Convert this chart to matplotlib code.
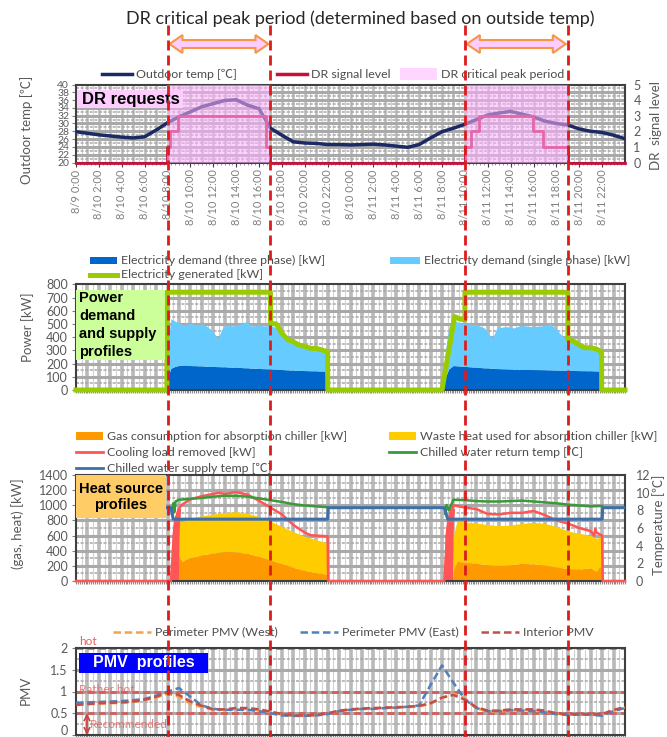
import numpy as np
import matplotlib.pyplot as plt
from matplotlib.lines import Line2D
from matplotlib.patches import Rectangle, Polygon

plt.rcParams['font.family'] = ['Lato', 'Noto Sans CJK JP', 'DejaVu Sans']

# -----------------------------
# DATA
# -----------------------------
hours = np.arange(0, 49)

outdoor_temp = [27.9, 27.5, 27.1, 26.8, 26.5, 26.3, 26.6, 28.3, 30.2, 31.7, 33.0, 34.3, 35.1, 35.9, 36.1, 34.7, 33.8, 28.8,
                27.0, 25.3, 25.0, 24.9, 24.6, 24.6, 24.5, 24.6, 24.7, 24.5, 24.2, 23.9, 24.6, 26.3, 27.9, 28.8, 29.8, 31.0,
                32.2, 32.7, 33.1, 32.4, 31.7, 30.6, 30.0, 29.6, 28.6, 28.0, 27.7, 27.0, 26.1]

dr_time = [0, 8, 8.2, 8.9, 16.6, 17, 34, 34.5, 35.2, 40, 40.8, 43, 48]
dr_level = [0, 1, 2, 3, 1, 0, 1, 2, 3, 2, 1, 0, 0]

peak_start = [8, 34]
peak_end = [17, 43]

tick_hours = np.arange(0, 47, 2)
tick_labels = ["8/9 0:00", "8/10 2:00", "8/10 4:00", "8/10 6:00", "8/10 8:00", "8/10 10:00",
               "8/10 12:00", "8/10 14:00", "8/10 16:00", "8/10 18:00", "8/10 20:00", "8/10 22:00",
               "8/10 0:00", "8/11 2:00", "8/11 4:00", "8/11 6:00", "8/11 8:00", "8/11 10:00",
               "8/11 12:00", "8/11 14:00", "8/11 16:00", "8/11 18:00", "8/11 20:00", "8/11 22:00"]

# power
gen_time = [0, 7.95, 7.96, 17.0, 17.01, 17.5, 18, 18.5, 19, 19.5, 20, 20.5, 21, 21.5, 22.0, 22.01, 32.0, 33.1, 33.5,
            34.0, 34.01, 43.0, 43.01, 43.5, 44, 44.5, 45, 45.5, 45.95, 45.96, 48]
gen_kw = [0, 0, 740, 740, 505, 500, 430, 380, 365, 340, 330, 315, 315, 303, 290, 0, 0, 555, 540,
          530, 740, 740, 380, 370, 340, 320, 320, 310, 290, 0, 0]

demand_time = [0, 7.95, 8.1, 8.3, 8.7, 9, 9.5, 10, 10.5, 11, 11.5, 12, 12.4, 12.8, 13.2, 13.8, 14.4, 14.9, 15.3, 16,
               16.5, 17, 17.5, 18, 18.5, 19, 19.5, 20, 20.5, 21, 21.5, 21.8, 21.85,
               32.1, 32.3, 32.6, 33.0, 33.5, 34.1, 35, 35.7, 36.4, 36.8, 37.6, 38.3, 38.9, 39.8, 40.7, 41.5, 42.0,
               42.6, 43.2, 43.9, 44.7, 45.4, 45.8, 45.85, 48]
three_phase_kw = [0, 0, 120, 165, 180, 185, 187, 185, 184, 182, 180, 178, 177, 176, 175, 172, 170, 168, 166, 163,
                  161, 160, 157, 155, 152, 150, 148, 147, 146, 145, 144, 143, 0,
                  0, 100, 160, 185, 182, 178, 172, 168, 165, 162, 160, 157, 156, 155, 154, 152, 150,
                  149, 148, 147, 146, 145, 143, 0, 0]
total_demand_kw = [0, 0, 400, 540, 520, 505, 492, 505, 495, 500, 480, 440, 390, 470, 490, 485, 500, 518, 485, 490,
                   485, 490, 470, 420, 385, 360, 340, 322, 315, 305, 300, 295, 0,
                   0, 300, 480, 530, 510, 500, 495, 470, 390, 470, 480, 470, 490, 480, 485, 500, 460,
                   400, 380, 360, 330, 320, 300, 0, 0]

# heat source
heat_time = [0, 8.85, 9.0, 9.3, 9.6, 10, 11, 12, 13, 14, 15, 16, 17, 18, 19, 20, 21, 22.0, 22.05,
             32.9, 33.0, 33.3, 34, 35, 36, 37, 38, 39, 40, 41, 42, 43, 44, 45, 45.5, 45.7, 46.0, 46.05, 48]
gas_kw = [0, 0, 330, 260, 290, 310, 345, 370, 390, 385, 365, 325, 280, 230, 180, 140, 110, 90, 0,
          0, 150, 260, 250, 235, 215, 205, 215, 235, 225, 210, 185, 165, 160, 170, 130, 180, 180, 0, 0]
heat_total_kw = [0, 0, 780, 790, 800, 830, 860, 885, 905, 915, 895, 850, 790, 720, 650, 590, 545, 500, 0,
                 0, 600, 790, 780, 765, 745, 730, 740, 760, 775, 760, 720, 660, 630, 600, 560, 580, 565, 0, 0]

cool_time = [0, 8.3, 8.6, 8.8, 9.0, 9.2, 10, 11, 12, 12.5, 13, 14, 15, 16, 17, 18, 19, 20, 20.5, 22.0, 22.05,
             32.2, 32.5, 32.8, 33.0, 34, 35, 36, 37, 38, 39, 40, 41, 42, 43, 44, 45, 45.3, 45.4, 45.5, 46.0, 46.05, 48]
cool_kw = [0, 0, 700, 850, 950, 1000, 1080, 1120, 1150, 1165, 1150, 1175, 1140, 1060, 970, 880, 740, 640, 605, 590, 0,
           0, 700, 900, 1000, 970, 950, 885, 880, 900, 900, 925, 870, 800, 760, 700, 660, 600, 690, 640, 600, 0, 0]
cool_band_time = [[8.35, 8.45, 8.6, 8.85, 9.2, 9.1, 9.05, 9.0],
                  [32.2, 32.3, 32.45, 32.7, 33.15, 33.05, 33.0, 32.95]]
cool_band_kw = [0, 600, 800, 950, 950, 800, 600, 0]

ret_time = [8.4, 8.5, 8.6, 8.7, 9.0, 10, 11, 12, 13, 14, 15, 16, 17, 18, 19, 20, 21, 22.0, np.nan,
            32.3, 32.4, 32.6, 33.0, 34, 35, 36, 37, 38, 39, 40, 41, 42, 43, 44, 45, 46.0]
ret_temp = [7.6, 8.8, 7.8, 9.0, 9.2, 9.3, 9.4, 9.55, 9.65, 9.65, 9.55, 9.35, 9.15, 8.95, 8.7, 8.55, 8.45, 8.35, np.nan,
            7.6, 8.6, 8.0, 9.2, 9.15, 9.05, 9.0, 9.0, 9.05, 9.1, 9.0, 8.9, 8.8, 8.65, 8.55, 8.45, 8.5]

sup_time = [0, 8.3, 8.5, 22.0, 22.05, 32.2, 32.5, 46.0, 46.05, 48]
sup_temp = [8.3, 8.3, 7.0, 7.0, 8.3, 8.3, 7.0, 7.0, 8.3, 8.3]

# PMV (hourly)
pmv_interior = [0.69, 0.71, 0.73, 0.74, 0.75, 0.77, 0.81, 0.88, 0.98, 0.92, 0.77, 0.67, 0.59, 0.59, 0.62, 0.62, 0.59,
                0.54, 0.48, 0.45, 0.45, 0.46, 0.50, 0.56, 0.59, 0.61, 0.62, 0.63, 0.64, 0.65, 0.67, 0.73, 0.86, 0.92,
                0.81, 0.64, 0.56, 0.56, 0.59, 0.59, 0.59, 0.56, 0.50, 0.48, 0.48, 0.47, 0.48, 0.58, 0.64]
pmv_west = [0.70, 0.71, 0.72, 0.73, 0.74, 0.76, 0.80, 0.86, 0.95, 0.88, 0.72, 0.64, 0.58, 0.58, 0.60, 0.60, 0.57,
            0.52, 0.47, 0.44, 0.44, 0.45, 0.49, 0.55, 0.58, 0.60, 0.61, 0.62, 0.63, 0.64, 0.66, 0.72, 0.85, 0.95,
            0.84, 0.62, 0.54, 0.54, 0.56, 0.57, 0.57, 0.54, 0.49, 0.47, 0.47, 0.46, 0.47, 0.57, 0.63]
pmv_east = [0.74, 0.75, 0.76, 0.77, 0.78, 0.80, 0.83, 0.90, 1.00, 1.08, 0.88, 0.68, 0.60, 0.58, 0.58, 0.58, 0.55,
            0.50, 0.45, 0.44, 0.44, 0.45, 0.48, 0.55, 0.58, 0.60, 0.60, 0.62, 0.63, 0.65, 0.68, 1.15, 1.60, 1.20,
            0.82, 0.62, 0.55, 0.55, 0.57, 0.56, 0.55, 0.52, 0.48, 0.46, 0.47, 0.47, 0.44, 0.55, 0.62]
pmv_levels = [2, 1, 0.5]
pmv_level_names = ["hot", "Rather hot", "Recommended"]

# -----------------------------
# FIGURE / HELPERS
# -----------------------------
W, H = 667, 737
fig = plt.figure(figsize=(W / 100, H / 100), dpi=100)
GRAY = '#595959'
LEG_FS = 8.9


def fx(px):
    return px / W


def fy(py):
    return 1 - py / H


def panel(top, bottom):
    ax = fig.add_axes([fx(76), fy(bottom), fx(625) - fx(76), (bottom - top) / H])
    ax.set_xlim(0, 48)
    for s in ax.spines.values():
        s.set_color('#404040')
        s.set_linewidth(1.5)
    ax.tick_params(axis='y', labelsize=9, labelcolor=GRAY, color='#808080', length=3, pad=3)
    return ax


def bg_grid(ax, y_major, y_minor, v_lw=2.6):
    for t in range(1, 48):
        ax.axvline(t, color='#b9b9b9', lw=v_lw, zorder=0.3)
    for t in np.arange(0.5, 48, 1):
        ax.axvline(t, color='#d2d2d2', lw=0.8, zorder=0.3)
    for y in y_major:
        ax.axhline(y, color='#a9a9a9', lw=2.2, zorder=0.3)
    for y in y_minor:
        ax.axhline(y, color='#a9a9a9', lw=1.1, ls=(0, (2, 1)), zorder=0.3)


def minor_x(ax):
    ax.set_xticks(np.arange(0, 48.01, 1 / 6))
    ax.tick_params(axis='x', length=2, color='#8c8c8c', labelbottom=False)


def leg_line(x, y, color, label, lw=2.5, ls='-', length=30):
    fig.add_artist(Line2D([fx(x), fx(x + length)], [fy(y), fy(y)], color=color, lw=lw, ls=ls))
    fig.text(fx(x + length + 4), fy(y), label, va='center', fontsize=LEG_FS, color='#4d4d4d')


def leg_patch(x, y, color, label, w=28, h=8):
    fig.add_artist(Rectangle((fx(x), fy(y + h / 2)), w / W, h / H, fc=color, ec='none'))
    fig.text(fx(x + w + 4), fy(y), label, va='center', fontsize=LEG_FS, color='#4d4d4d')


def label_box(x0, y0, x1, y1, color):
    fig.add_artist(Rectangle((fx(x0), fy(y1)), (x1 - x0) / W, (y1 - y0) / H, fc=color, ec='none', zorder=4))


# -----------------------------
# DR REQUESTS
# -----------------------------
ax1 = panel(84.5, 162.5)
bg_grid(ax1, np.arange(22, 40, 2), np.arange(21, 40, 2), v_lw=1.8)
ax1.plot(hours, outdoor_temp, color='#1c2a63', lw=2.5, zorder=3)
ax1.set_ylim(20, 40)
ax1.set_yticks(np.arange(20, 41, 2))
ax1.tick_params(axis='y', labelsize=7.5, pad=2)
ax1.set_xticks(tick_hours)
ax1.set_xticklabels(tick_labels, rotation=90, fontsize=8, color='#808080')
ax1.set_xticks(np.arange(0, 48.01, 1 / 3), minor=True)
ax1.tick_params(axis='x', which='major', length=3, color='#404040', pad=2)
ax1.tick_params(axis='x', which='minor', length=1.5, color='#8c8c8c')

ax1r = ax1.twinx()
ax1r.step(dr_time, dr_level, where='post', color='#c8103c', lw=2, clip_on=False, zorder=3)
for s0, s1 in zip(peak_start, peak_end):
    ax1r.axvspan(s0, s1, color='#ffb0ff', alpha=0.55, lw=0, zorder=5)
ax1r.set_ylim(0, 5)
ax1r.set_yticks(range(6))
ax1r.tick_params(axis='y', labelsize=9, labelcolor=GRAY, length=0, pad=6)
for s in ax1r.spines.values():
    s.set_visible(False)

fig.text(fx(27), fy(130), "Outdoor temp [℃]", rotation=90, ha='center', va='center', fontsize=9.5, color=GRAY)
fig.text(fx(656), fy(125), "DR  signal level", rotation=90, ha='center', va='center', fontsize=9.5, color=GRAY)

leg_line(102, 74, '#1c2a63', "Outdoor temp [℃]", lw=2.5)
leg_line(277, 74, '#c8103c', "DR signal level", lw=2.5)
leg_patch(400, 74, '#ffd6ff', "DR critical peak period", w=37, h=12)

label_box(77, 90, 183, 108, '#ffccff')
fig.text(fx(82), fy(99.5), "DR requests", va='center', fontsize=12, fontweight='bold',
         family='Liberation Sans', zorder=5)

# -----------------------------
# POWER
# -----------------------------
ax2 = panel(284.3, 390)
bg_grid(ax2, np.arange(100, 800, 100), np.arange(50, 800, 100))
ax2.fill_between(demand_time, 0, three_phase_kw, color='#0066cc', lw=0, zorder=1)
ax2.fill_between(demand_time, three_phase_kw, total_demand_kw, color='#66ccff', lw=0, zorder=1)
ax2.plot(gen_time, gen_kw, color='#99cc00', lw=3.6, clip_on=False, zorder=3)
ax2.set_ylim(0, 800)
ax2.set_yticks(range(0, 801, 100))
minor_x(ax2)
fig.text(fx(28), fy(327), "Power [kW]", rotation=90, ha='center', va='center', fontsize=9.5, color=GRAY)

leg_patch(90, 260, '#0066cc', "Electricity demand (three phase) [kW]", w=27, h=7)
leg_patch(390, 260, '#66ccff', "Electricity demand (single phase) [kW]", w=30, h=7)
leg_line(90, 275, '#99cc00', "Electricity generated [kW]", lw=3.6, length=27)

label_box(76, 290, 165, 360, '#ccff99')
fig.text(fx(79), fy(325), "Power\ndemand\nand supply\nprofiles", va='center', fontsize=10.5,
         fontweight='bold', family='Liberation Sans', linespacing=1.38, zorder=5)

# -----------------------------
# HEAT SOURCE
# -----------------------------
ax3 = panel(475, 581)
bg_grid(ax3, np.arange(200, 1400, 200), np.arange(100, 1400, 100))
ax3.fill_between(heat_time, 0, gas_kw, color='#ff9900', lw=0, zorder=1)
ax3.fill_between(heat_time, gas_kw, heat_total_kw, color='#ffcc00', lw=0, zorder=1)
for bt in cool_band_time:
    ax3.fill(bt, cool_band_kw, color='#ff5555', lw=0, zorder=2)
ax3.plot(cool_time, cool_kw, color='#ff5555', lw=1.8, clip_on=False, zorder=3)
ax3.set_ylim(0, 1400)
ax3.set_yticks(range(0, 1401, 200))
minor_x(ax3)

ax3r = ax3.twinx()
ax3r.plot(ret_time, ret_temp, color='#3a9a3a', lw=1.8)
ax3r.plot(sup_time, sup_temp, color='#3d6fa8', lw=2.2)
ax3r.set_ylim(0, 12)
ax3r.set_yticks(range(0, 13, 2))
ax3r.tick_params(axis='y', labelsize=9, labelcolor=GRAY, length=0, pad=8)
for s in ax3r.spines.values():
    s.set_visible(False)

fig.text(fx(18), fy(524), "(gas, heat) [kW]", rotation=90, ha='center', va='center', fontsize=9.5, color=GRAY)
fig.text(fx(659), fy(525), "Temperature [℃]", rotation=90, ha='center', va='center', fontsize=9.5, color=GRAY)

leg_patch(76, 436, '#ff9900', "Gas consumption for absorption chiller [kW]", w=27, h=8)
leg_patch(389, 436, '#ffcc00', "Waste heat used for absorption chiller [kW]", w=27, h=8)
leg_line(76, 452, '#ff5555', "Cooling load removed [kW]", lw=2, length=27)
leg_line(389, 452, '#3a9a3a', "Chilled water return temp [℃]", lw=2, length=27)
leg_line(76, 468, '#3d6fa8', "Chilled water supply temp [℃]", lw=2, length=27)

label_box(76, 475, 166, 518, '#ffcc66')
fig.text(fx(121), fy(497), "Heat source\nprofiles", ha='center', va='center', fontsize=10.5,
         fontweight='bold', family='Liberation Sans', linespacing=1.2, zorder=5)

# -----------------------------
# PMV
# -----------------------------
ax4 = panel(648, 735)
bg_grid(ax4, [0.5, 1.0, 1.5], [0.25, 0.75, 1.25, 1.75])
ax4.plot(hours, pmv_west, color='#f6a04a', lw=1.8, ls=(0, (3, 1.5)), zorder=3)
ax4.plot(hours, pmv_east, color='#4f81bd', lw=1.8, ls=(0, (3, 1.5)), zorder=3)
ax4.plot(hours, pmv_interior, color='#c0504d', lw=1.8, ls=(0, (3, 1.5)), zorder=3)
for lev in pmv_levels:
    ax4.axhline(lev, color='#d9534f', lw=2, ls=(0, (2.5, 1.5)), alpha=0.85, zorder=2.5, clip_on=False)
ax4.set_ylim(0, 2)
ax4.set_yticks([0, 0.5, 1, 1.5, 2])
ax4.set_yticklabels(['0', '0.5', '1', '1.5', '2'])
ax4.get_yticklabels()[0].set_verticalalignment('baseline')
minor_x(ax4)
ax4.text(0.006, pmv_levels[0] + 0.02, pmv_level_names[0], transform=ax4.get_yaxis_transform(), va='bottom',
         fontsize=8.5, color='#e06060', clip_on=False)
ax4.text(0.006, pmv_levels[1] - 0.08, pmv_level_names[1], transform=ax4.get_yaxis_transform(), va='bottom',
         fontsize=8.5, color='#e06060', alpha=0.8)
ax4.text(0.026, pmv_levels[2] - 0.27, pmv_level_names[2], transform=ax4.get_yaxis_transform(), va='center',
         fontsize=8.5, color='#e06060', alpha=0.8)
ax4.annotate('', xy=(0.02, 0), xytext=(0.02, pmv_levels[2]), xycoords=ax4.get_yaxis_transform(),
             arrowprops=dict(arrowstyle='<->', color='#d04040', lw=1.2, shrinkA=0, shrinkB=0))
fig.text(fx(26), fy(690), "PMV", rotation=90, ha='center', va='center', fontsize=9.5, color=GRAY)

leg_line(113, 632, '#f6a04a', "Perimeter PMV (West)", lw=1.8, ls=(0, (3, 1.5)), length=38)
leg_line(300, 632, '#4f81bd', "Perimeter PMV (East)", lw=1.8, ls=(0, (3, 1.5)), length=38)
leg_line(481, 632, '#c0504d', "Interior PMV", lw=1.8, ls=(0, (3, 1.5)), length=38)

label_box(79, 653, 208, 673, '#0000ff')
fig.text(fx(143.5), fy(663), "PMV  profiles", ha='center', va='center', fontsize=11.5, fontweight='bold',
         color='white', family='Liberation Sans', zorder=5)

# -----------------------------
# DR PERIOD MARKERS
# -----------------------------
fig.text(fx(360), fy(19), "DR critical peak period (determined based on outside temp)", ha='center', va='center',
         fontsize=13, color='#262626')

to_fig = fig.transFigure.inverted()


def x_of(t):
    return to_fig.transform(ax1.transData.transform((t, 30)))[0]


for s0, s1 in zip(peak_start, peak_end):
    for t in (s0, s1):
        fig.add_artist(Line2D([x_of(t), x_of(t)], [fy(25), 0], color='#dd1c1c', lw=2,
                              ls=(0, (3.6, 1.8)), zorder=10))
    # double-headed block arrow between the two lines
    xa, xb = x_of(s0) + fx(2), x_of(s1) - fx(2)
    yc, hh, sh, hl = fy(44), 9 / H, 4 / H, fx(13)
    pts = [(xa, yc), (xa + hl, yc + hh), (xa + hl, yc + sh), (xb - hl, yc + sh), (xb - hl, yc + hh),
           (xb, yc), (xb - hl, yc - hh), (xb - hl, yc - sh), (xa + hl, yc - sh), (xa + hl, yc - hh)]
    fig.add_artist(Polygon(pts, closed=True, fc='#ffccff', ec='#f79646', lw=1.5, zorder=9))

fig.savefig("out.png", dpi=100)
